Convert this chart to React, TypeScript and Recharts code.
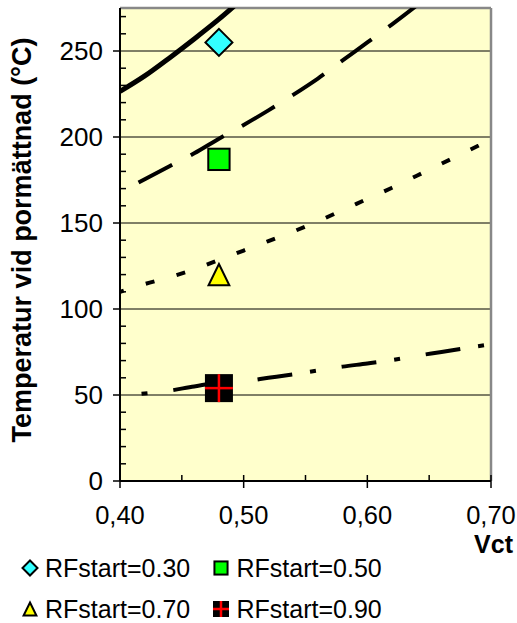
import React from 'react';
import { ComposedChart, Line, Scatter, XAxis, YAxis, ReferenceLine, Legend, CartesianGrid } from 'recharts';

// Model curves (Vct -> temperature)
const rf30Vct = [0.4, 0.42, 0.44, 0.46, 0.48, 0.5];
const rf30Temp = [226.5, 235.5, 246, 257, 268.5, 281];
const rf50Vct = [0.415, 0.44, 0.46, 0.48, 0.5, 0.52, 0.54, 0.56, 0.58, 0.6, 0.62, 0.64, 0.66];
const rf50Temp = [173.5, 183, 190.5, 199, 207, 215.5, 224.5, 234, 244.5, 255, 265.5, 276.5, 288];
const rf70Vct = [0.4, 0.42, 0.44, 0.46, 0.48, 0.5, 0.52, 0.54, 0.56, 0.58, 0.6, 0.62, 0.64, 0.66, 0.68, 0.7];
const rf70Temp = [110, 114.5, 118.5, 123, 128.5, 134, 139.5, 145, 151, 157.5, 164, 170.5, 177.5, 184.5, 191.5, 198.5];
const rf90Vct = [0.415, 0.44, 0.46, 0.48, 0.5, 0.52, 0.54, 0.56, 0.58, 0.6, 0.62, 0.64, 0.66, 0.68, 0.7];
const rf90Temp = [50.5, 52.5, 55, 57, 58, 60, 62, 64.3, 66.5, 68.3, 70.3, 72.8, 75, 77.3, 79.5];

// Measured points
const seriesNames = ['RFstart=0.30', 'RFstart=0.50', 'RFstart=0.70', 'RFstart=0.90'];
const measVct = [0.48, 0.48, 0.48, 0.48];
const measTemp = [255, 187, 120, 54];

const xTicks = [0.4, 0.45, 0.5, 0.55, 0.6, 0.65, 0.7];
const yTicks = [0, 10, 20, 30, 40, 50, 60, 70, 80, 90, 100, 110, 120, 130, 140, 150, 160, 170, 180, 190, 200, 210, 220, 230, 240, 250, 260, 270];
const gridValues = [50, 100, 150, 200, 250];

const FONT = '"Liberation Sans", Arial, sans-serif';

const toRows = (xs: number[], ys: number[]) => xs.map((v, i) => ({ v, t: ys[i] }));

const markerKinds = ['diamond', 'square', 'triangle', 'cross'];

function Marker({ kind, cx, cy, s }: { kind: string; cx: number; cy: number; s: number }) {
  const h = s / 2;
  if (kind === 'diamond') {
    return (
      <polygon
        points={`${cx},${cy - h} ${cx + h},${cy} ${cx},${cy + h} ${cx - h},${cy}`}
        fill="#33FFFF"
        stroke="#000"
        strokeWidth={2}
      />
    );
  }
  if (kind === 'square') {
    const q = h * 0.82;
    return <rect x={cx - q} y={cy - q} width={2 * q} height={2 * q} fill="#00FF00" stroke="#000" strokeWidth={2} />;
  }
  if (kind === 'triangle') {
    const w = h * 0.8;
    const hh = h * 0.82;
    return (
      <polygon
        points={`${cx},${cy - hh} ${cx + w},${cy + hh} ${cx - w},${cy + hh}`}
        fill="#FFFF00"
        stroke="#000"
        strokeWidth={2}
      />
    );
  }
  const q = h;
  return (
    <g>
      <rect x={cx - q} y={cy - q} width={2 * q} height={2 * q} fill="#000" />
      <line x1={cx - q} x2={cx + q} y1={cy} y2={cy} stroke="#FF0000" strokeWidth={2.5} />
      <line x1={cx} x2={cx} y1={cy - q} y2={cy + q} stroke="#FF0000" strokeWidth={2.5} />
    </g>
  );
}

const YTick = (props: any) => {
  const { x, y, payload } = props;
  const ax = x + 17;
  const v = payload.value;
  const major = v % 50 === 0;
  return (
    <g>
      {major ? (
        <line x1={ax - 7} x2={ax} y1={y} y2={y} stroke="#000" strokeWidth={1.5} />
      ) : (
        <line x1={ax} x2={ax + 6} y1={y} y2={y} stroke="#000" strokeWidth={1.5} />
      )}
      {major && (
        <text x={x} y={y} dy="0.355em" textAnchor="end" fontSize={26} fontFamily={FONT} fill="#000">
          {v}
        </text>
      )}
    </g>
  );
};

const XTick = (props: any) => {
  const { x, y, payload } = props;
  const ay = y - 25;
  const v = payload.value;
  const major = Math.abs(Math.round(v * 10) - v * 10) < 1e-6;
  return (
    <g>
      {major ? (
        <line x1={x} x2={x} y1={ay - 6} y2={ay + 7} stroke="#000" strokeWidth={1.5} />
      ) : (
        <line x1={x} x2={x} y1={ay - 6} y2={ay} stroke="#000" strokeWidth={1.5} />
      )}
      {major && (
        <text x={x} y={y} dy="0.71em" textAnchor="middle" fontSize={25.5} fontFamily={FONT} fill="#000">
          {v.toFixed(2).replace('.', ',')}
        </text>
      )}
    </g>
  );
};

const shapeFor = (kind: string, s: number) => (p: any) => <Marker kind={kind} cx={p.cx} cy={p.cy} s={s} />;

const legendPos = [
  { mx: 29.5, ty: 20 },
  { mx: 221, ty: 20 },
  { mx: 29.5, ty: 61 },
  { mx: 221, ty: 61 },
];

const LegendContent = () => (
  <div style={{ position: 'relative', width: 517, height: 80, fontFamily: FONT }}>
    {seriesNames.map((name, i) => (
      <div
        key={name}
        style={{
          position: 'absolute',
          left: legendPos[i].mx - 10,
          top: legendPos[i].ty - 16,
          height: 32,
          display: 'flex',
          alignItems: 'center',
          whiteSpace: 'nowrap',
        }}
      >
        <svg width={20} height={20} style={{ display: 'block' }}>
          <Marker kind={markerKinds[i]} cx={10} cy={10} s={markerKinds[i] === 'diamond' ? 15 : 16} />
        </svg>
        <span style={{ marginLeft: 5.5, fontSize: 25, color: '#000', lineHeight: '32px' }}>{name}</span>
      </div>
    ))}
  </div>
);

export default function App() {
  return (
    <div style={{ position: 'absolute', left: 0, top: 0, width: 517, height: 623, background: '#fff' }}>
      <ComposedChart width={517} height={623} margin={{ top: 8, right: 26, bottom: 82, left: 0 }}>
        <CartesianGrid horizontal={false} vertical={false} fill="#FFFFCC" />
        {gridValues.map((g) => (
          <ReferenceLine key={g} y={g} stroke="#000" strokeWidth={1} />
        ))}
        <ReferenceLine y={275} stroke="#888" strokeWidth={2.5} />
        <ReferenceLine x={0.7} stroke="#888" strokeWidth={2.5} />
        <XAxis
          type="number"
          dataKey="v"
          domain={[0.4, 0.7]}
          ticks={xTicks}
          interval={0}
          height={60}
          tickSize={7}
          tickMargin={18}
          tickLine={false}
          tick={<XTick />}
          axisLine={{ stroke: '#000', strokeWidth: 2 }}
          allowDataOverflow
          label={{
            content: (p: any) => {
              const vb = p.viewBox;
              return (
                <text
                  x={vb.x + vb.width + 22}
                  y={544}
                  dy="0.355em"
                  textAnchor="end"
                  fontSize={25}
                  fontWeight="bold"
                  fontFamily={FONT}
                  fill="#000"
                >
                  Vct
                </text>
              );
            },
          }}
        />
        <YAxis
          type="number"
          domain={[0, 275]}
          ticks={yTicks}
          interval={0}
          width={120}
          tickSize={7}
          tickMargin={10}
          tickLine={false}
          tick={<YTick />}
          axisLine={{ stroke: '#000', strokeWidth: 2 }}
          allowDataOverflow
          label={{
            content: () => (
              <text
                x={31}
                y={240}
                transform="rotate(-90 31 240)"
                textAnchor="middle"
                fontSize={27}
                fontWeight="bold"
                fontFamily={FONT}
                fill="#000"
              >
                Temperatur vid pormättnad (°C)
              </text>
            ),
          }}
        />
        <Line
          data={toRows(rf30Vct, rf30Temp)}
          dataKey="t"
          type="monotone"
          stroke="#000"
          strokeWidth={5}
          dot={false}
          isAnimationActive={false}
          legendType="none"
        />
        <Line
          data={toRows(rf50Vct, rf50Temp)}
          dataKey="t"
          type="monotone"
          stroke="#000"
          strokeWidth={4}
          strokeDasharray="38 21"
          dot={false}
          isAnimationActive={false}
          legendType="none"
        />
        <Line
          data={toRows(rf70Vct, rf70Temp)}
          dataKey="t"
          type="monotone"
          stroke="#000"
          strokeWidth={4}
          strokeDasharray="9 23"
          strokeDashoffset={5}
          dot={false}
          isAnimationActive={false}
          legendType="none"
        />
        <Line
          data={toRows(rf90Vct, rf90Temp)}
          dataKey="t"
          type="monotone"
          stroke="#000"
          strokeWidth={4}
          strokeDasharray="35 18 6 26"
          strokeDashoffset={50}
          dot={false}
          isAnimationActive={false}
          legendType="none"
        />
        {seriesNames.map((name, i) => (
          <Scatter
            key={name}
            name={name}
            data={[{ v: measVct[i], t: measTemp[i] }]}
            dataKey="t"
            shape={shapeFor(markerKinds[i], markerKinds[i] === 'cross' ? 28 : markerKinds[i] === 'diamond' ? 27 : 26)}
            isAnimationActive={false}
          />
        ))}
        <Legend
          layout="horizontal"
          verticalAlign="middle"
          align="center"
          content={<LegendContent />}
          wrapperStyle={{ top: 548, left: 0, width: 517 }}
        />
      </ComposedChart>
    </div>
  );
}
